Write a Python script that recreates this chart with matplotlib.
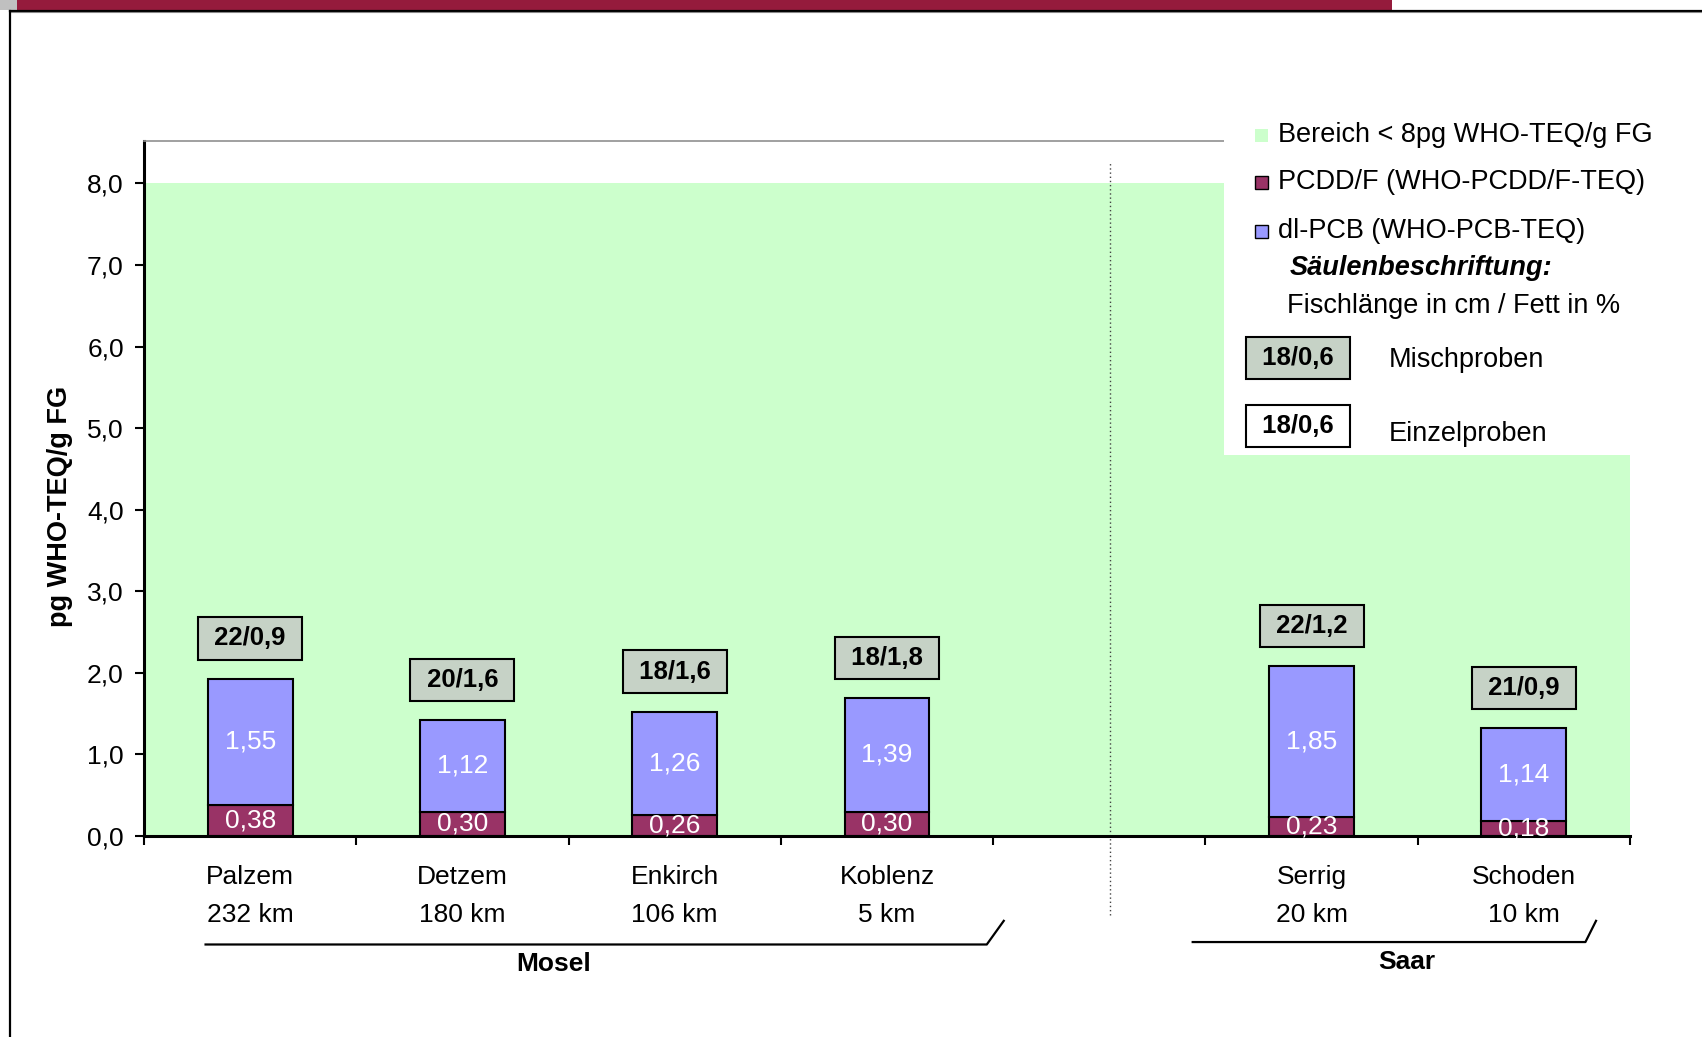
import numpy as np
import matplotlib
matplotlib.use('Agg')
import matplotlib.pyplot as plt
from matplotlib.patches import Rectangle
from matplotlib.lines import Line2D

plt.rcParams['font.family'] = ['Liberation Sans', 'DejaVu Sans']

# ---- data ----
sites = ['Palzem', 'Detzem', 'Enkirch', 'Koblenz', '', 'Serrig', 'Schoden']
distances = ['232 km', '180 km', '106 km', '5 km', '', '20 km', '10 km']
pcdd = [0.38, 0.30, 0.26, 0.30, None, 0.23, 0.18]
pcb = [1.55, 1.12, 1.26, 1.39, None, 1.85, 1.14]
box_labels = ['22/0,9', '20/1,6', '18/1,6', '18/1,8', '', '22/1,2', '21/0,9']
threshold = 8.0
yticks = [0, 1, 2, 3, 4, 5, 6, 7, 8]
groups = ['Mosel', 'Saar']
legend_labels = ['Bereich < 8pg WHO-TEQ/g FG', 'PCDD/F (WHO-PCDD/F-TEQ)', 'dl-PCB (WHO-PCB-TEQ)']

C_GREEN = '#CCFFCC'
C_PCDD = '#993366'
C_PCB = '#9999FF'
C_BOX = '#C6D2C6'

def de(v, n):
    return f"{v:.{n}f}".replace('.', ',')

W, H = 1702, 1037
fig = plt.figure(figsize=(W / 100, H / 100), dpi=100)
ax = fig.add_axes([144 / W, (H - 836) / H, (1630 - 144) / W, (836 - 141) / H])
ax.set_xlim(-0.5, len(sites) - 0.5)
ax.set_ylim(0, 8.52)

ax.axhspan(0, threshold, color=C_GREEN, zorder=0, lw=0)

x = np.arange(len(sites))
for i in x:
    if pcdd[i] is None:
        continue
    ax.bar(i, pcdd[i], width=0.4, color=C_PCDD, edgecolor='black', lw=1.5, zorder=2)
    ax.bar(i, pcb[i], width=0.4, bottom=pcdd[i], color=C_PCB, edgecolor='black', lw=1.5, zorder=2)
    ax.text(i, pcdd[i] + pcb[i] / 2, de(pcb[i], 2), color='white', fontsize=19,
            ha='center', va='center', zorder=3)
    ax.text(i, pcdd[i] / 2, de(pcdd[i], 2), color='white', fontsize=19,
            ha='center', va='center', zorder=3)
    ax.annotate(f" {box_labels[i]} ", xy=(i, pcdd[i] + pcb[i]), xytext=(0, 29),
                textcoords='offset points', ha='center', va='center', fontsize=18.5,
                fontweight='bold', zorder=4,
                bbox=dict(boxstyle='square,pad=0.36', fc=C_BOX, ec='black', lw=1.5))

# axes styling
ax.spines['right'].set_visible(False)
ax.spines['top'].set_color('#909090')
ax.spines['top'].set_linewidth(1.2)
ax.spines['left'].set_linewidth(2.2)
ax.spines['bottom'].set_linewidth(2.2)

ax.set_yticks(yticks)
ax.set_yticklabels([de(v, 1) for v in yticks], fontsize=19)
ax.tick_params(axis='y', direction='out', length=6.5, width=1.5, pad=8)

ax.set_xticks(np.arange(-0.5, len(sites), 1.0))
ax.set_xticklabels([])
ax.tick_params(axis='x', which='major', direction='out', length=6.5, width=1.5)
ax.set_xticks(x, minor=True)
ax.set_xticklabels([f"{s}\n{d}" if s else '' for s, d in zip(sites, distances)],
                   minor=True, fontsize=19, linespacing=1.75)
ax.tick_params(axis='x', which='minor', length=0, pad=21)

# dotted separator
gap = sites.index('')
ax.plot([gap + 0.05, gap + 0.05], [-0.97, 8.28], ls=(0, (1, 2)), color='#444444', lw=1.0,
        clip_on=False, zorder=1)

# group brackets
ax.plot([-0.21, 3.47, 3.55], [-1.33, -1.33, -1.04], color='black', lw=1.6, clip_on=False)
ax.plot([4.44, 6.29, 6.34], [-1.30, -1.30, -1.04], color='black', lw=1.6, clip_on=False)
ax.text(1.43, -1.57, groups[0], fontsize=19, fontweight='bold', ha='center', va='center')
ax.text(5.45, -1.54, groups[1], fontsize=19, fontweight='bold', ha='center', va='center')

# y label
fig.text(60 / W, 1 - 506 / H, 'pg WHO-TEQ/g FG', rotation=90, fontsize=19.5,
         fontweight='bold', ha='center', va='center')

# frame decorations
fig.add_artist(Rectangle((17 / W, 1 - 10 / H), (1392 - 17) / W, 10 / H, color='#951B3C',
                         transform=fig.transFigure, lw=0))
fig.add_artist(Rectangle((0, 1 - 10 / H), 17 / W, 10 / H, color='#C0C0C0',
                         transform=fig.transFigure, lw=0))
fig.add_artist(Line2D([10 / W, 1], [1 - 10.5 / H] * 2, color='black', lw=1.6, transform=fig.transFigure))
fig.add_artist(Line2D([10 / W, 1], [1 - 12 / H] * 2, color='#888888', lw=0.8, transform=fig.transFigure))
fig.add_artist(Line2D([10 / W] * 2, [0, 1 - 10.5 / H], color='black', lw=1.6, transform=fig.transFigure))

# legend panel
fig.add_artist(Rectangle((1224 / W, 1 - 455 / H), (W - 1224 - 5) / W, (455 - 110) / H,
                         color='white', lw=0, transform=fig.transFigure, zorder=1))
rows_y = [135, 182, 231]
mcolors = [C_GREEN, C_PCDD, C_PCB]
medges = ['none', 'black', 'black']
for yy, lab, c, e in zip(rows_y, legend_labels, mcolors, medges):
    fig.add_artist(Rectangle((1255 / W, 1 - (yy + 7) / H), 13 / W, 13 / H, fc=c, ec=e, lw=1.0,
                             transform=fig.transFigure, zorder=2))
    fig.text(1278 / W, 1 - yy / H, lab, fontsize=19.5, ha='left', va='center')
fig.text(1290 / W, 1 - 268 / H, 'Säulenbeschriftung:', fontsize=19.5, fontweight='bold',
         style='italic', ha='left', va='center')
fig.text(1287 / W, 1 - 306 / H, 'Fischlänge in cm / Fett in %', fontsize=19.5, ha='left', va='center')
fig.text(1298 / W, 1 - 358 / H, ' 18/0,6 ', fontsize=18.5, fontweight='bold', ha='center', va='center',
         bbox=dict(boxstyle='square,pad=0.36', fc=C_BOX, ec='black', lw=1.5))
fig.text(1389 / W, 1 - 360 / H, 'Mischproben', fontsize=19.5, ha='left', va='center')
fig.text(1298 / W, 1 - 426 / H, ' 18/0,6 ', fontsize=18.5, fontweight='bold', ha='center', va='center',
         bbox=dict(boxstyle='square,pad=0.36', fc='white', ec='black', lw=1.5))
fig.text(1389 / W, 1 - 434 / H, 'Einzelproben', fontsize=19.5, ha='left', va='center')

fig.savefig('out.png', dpi=100)
